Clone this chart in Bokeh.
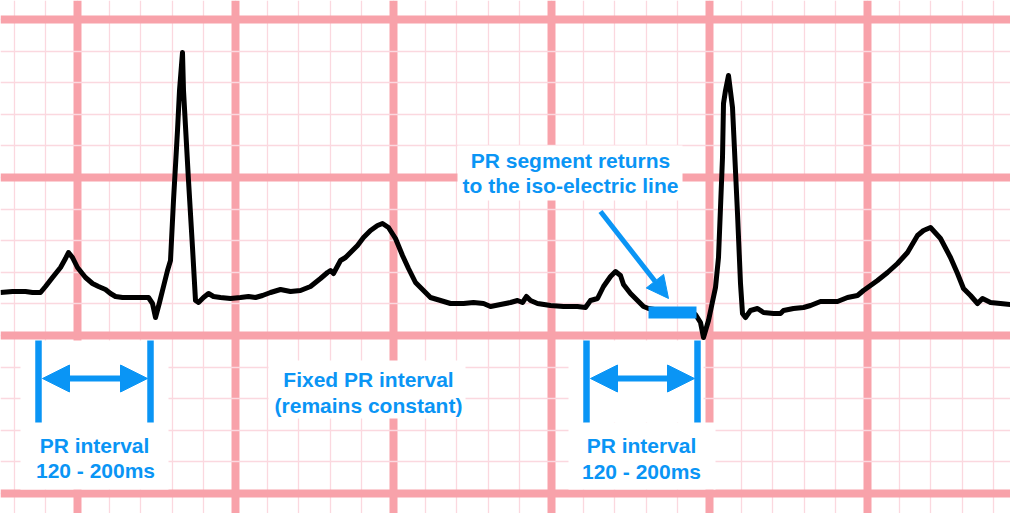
"""
ECG rhythm strip with a fixed PR interval.

The trace and all markings are given in strip coordinates (x to the right,
y downwards, one small square = 31.6 units, one large square = 158 units).
"""

from bokeh.core.properties import value
from bokeh.embed import file_html
from bokeh.models import Arrow, FixedTicker, Grid, NormalHead, Range1d
from bokeh.plotting import figure
from bokeh.resources import INLINE

# --- ECG trace ---------------------------------------------------------------
ecg_x = [0, 12, 25, 32, 40, 45, 52, 60, 65, 68, 72, 77, 85, 92, 98, 105, 110, 115,
         122, 132, 140, 148, 152, 155, 159, 163, 167, 170, 173, 177, 179, 182, 183,
         188, 192, 195, 198, 203, 208, 213, 220, 230, 240,
         248, 255, 262, 270, 280, 290, 300, 310, 320, 327, 330, 333, 340, 345, 350,
         357, 363, 370, 377, 382, 388, 395, 402, 408, 415, 423, 430, 440, 450, 463,
         473, 483, 490, 500, 510, 517, 522, 526, 530, 537, 550, 563, 577, 585, 590,
         597, 603, 610, 615, 620, 623, 630, 637, 643, 648,
         660, 680, 695, 700, 703, 708, 715, 718, 720, 722, 723, 725, 728, 732, 737,
         740, 742, 745, 750, 757, 763, 773, 780, 783, 793, 803, 810, 820, 837, 847,
         857, 863, 877, 887, 897, 907, 917, 923, 930, 940, 950, 957, 963, 970, 977,
         982, 990, 1000, 1010]
ecg_y = [292, 291, 291, 292, 292, 286, 277, 267, 258, 252, 257, 267, 277, 283, 286, 289, 293, 296,
         297, 297, 297, 297, 303, 317, 302, 286, 270, 260, 200, 130, 90, 52, 90,
         180, 247, 300, 302, 297, 293, 296, 297, 298, 297,
         296, 297, 295, 292, 289, 291, 290, 286, 278, 272, 270, 273, 260, 257, 252,
         245, 237, 230, 225, 223, 227, 238, 255, 268, 282, 290, 297, 300, 303, 303,
         302, 303, 306, 304, 302, 300, 302, 296, 300, 303, 305, 306, 306, 307, 300,
         298, 286, 276, 271, 275, 284, 293, 300, 306, 308,
         310, 311, 314, 322, 337, 320, 287, 257, 207, 157, 103, 90, 75, 107, 213,
         283, 313, 317, 310, 308, 312, 313, 313, 310, 308, 307, 305, 301, 301, 297,
         295, 290, 280, 272, 263, 252, 235, 230, 227, 238, 257, 273, 288, 295, 303,
         298, 302, 303, 304]

# --- ECG paper -----------------------------------------------------------------
major_x = [77, 235, 393, 551, 709, 867]
major_y = [19, 177, 335, 493]
minor_x = [77 + 31.6 * k for k in range(-3, 31)]
minor_y = [19 + 31.6 * k for k in range(-1, 17)]

# --- annotations -----------------------------------------------------------
pr_start = [38, 586]          # start of P wave
pr_end = [150, 697]           # start of QRS
pr_segment = (648, 696)       # flat PR segment
pr_labels = ["PR interval", "120 - 200ms"]
fixed_labels = ["Fixed PR interval", "(remains constant)"]
segment_labels = ["PR segment returns", "to the iso-electric line"]

BLUE = "#0A95F5"
MAJOR = "#F8A2AA"
MINOR = "#FBD8DF"
FONT = value("Liberation Sans")

p = figure(width=1010, height=513, x_range=Range1d(0, 1010), y_range=Range1d(513, 0),
           output_backend="svg", toolbar_location=None,
           x_axis_location=None, y_axis_location=None,
           min_border=0, outline_line_color=None)
p.grid.visible = False

for dim, major, minor in ((0, major_x, minor_x), (1, major_y, minor_y)):
    p.add_layout(Grid(dimension=dim, ticker=FixedTicker(ticks=major, minor_ticks=minor),
                      grid_line_color=MAJOR, grid_line_width=8,
                      minor_grid_line_color=MINOR, minor_grid_line_width=1.3), "center")

# white patches behind the labels
p.quad(left=[20, 568, 568, 268, 457], right=[168, 703, 715, 465, 682],
       top=[340, 340, 422, 360, 145], bottom=[489, 422, 489, 418, 200],
       fill_color="white", line_color=None)

p.line(ecg_x, ecg_y, line_color="black", line_width=5, line_join="round")

p.quad(left=[pr_segment[0]], right=[pr_segment[1]], top=[306], bottom=[318],
       fill_color=BLUE, line_color=None)

# PR interval brackets
p.segment(x0=pr_start + pr_end, y0=340, x1=pr_start + pr_end, y1=422,
          line_color=BLUE, line_width=6.5)
for a, b in zip(pr_start, pr_end):
    p.add_layout(Arrow(start=NormalHead(size=27, fill_color=BLUE, line_color=BLUE),
                       end=NormalHead(size=27, fill_color=BLUE, line_color=BLUE),
                       x_start=a + 4, y_start=378, x_end=b - 3, y_end=378,
                       line_color=BLUE, line_width=6))

p.add_layout(Arrow(end=NormalHead(size=22, fill_color=BLUE, line_color=BLUE),
                   x_start=600, y_start=211, x_end=668, y_end=298,
                   line_color=BLUE, line_width=5))

text_x = [94, 95, 641, 641, 368, 368, 570, 570]
text_y = [445, 470, 445, 471, 379, 405, 160, 185]
p.text(x=text_x, y=text_y, text=pr_labels + pr_labels + fixed_labels + segment_labels,
       text_font=FONT, text_font_style="bold", text_font_size="21px",
       text_color=BLUE, text_align="center", text_baseline="middle")

open("out.html", "w").write(file_html(p, INLINE))
